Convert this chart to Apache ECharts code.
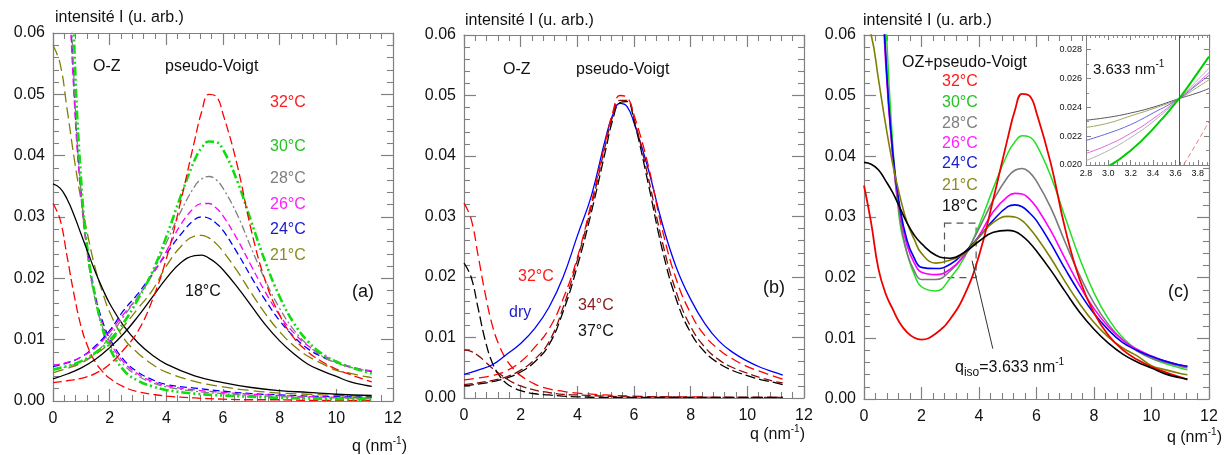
<!DOCTYPE html>
<html><head><meta charset="utf-8">
<script src="https://cdn.jsdelivr.net/npm/echarts@6/dist/echarts.min.js"></script>
<style>html,body{margin:0;padding:0;background:#fff}#c{width:1232px;height:455px}</style>
</head><body><div id="c"></div>
<script>
// ---------- q grids ----------
const qPV  = [0,0.5,1,1.5,2,2.5,3,3.5,4,4.5,5,5.25,5.5,5.75,6,6.5,7,7.5,8,8.5,9,9.5,10,10.5,11,11.25];
const qOZ  = [0,0.25,0.5,0.75,1,1.25,1.5,1.75,2,2.5,3,3.5,4,5,6,7,8,9,10,11.25];
const qSum = [0,0.25,0.5,0.75,1,1.25,1.5,1.75,2,2.5,3,3.5,4,4.5,5,5.25,5.5,5.75,6,6.5,7,7.5,8,8.5,9,9.5,10,10.5,11,11.25];
const qIso = 3.633;
const qInset = [2.8,3.0,3.2,3.4,3.633,3.8,3.9];
const qInsetRed = [3.6,3.75,3.9];

// ---------- panel (a): pseudo-Voigt ----------
const pv32 = [0.0030,0.0033,0.0037,0.0045,0.0060,0.0084,0.0114,0.0164,0.0232,0.0324,0.0425,0.0472,0.0500,0.0497,0.0468,0.0385,0.0278,0.0195,0.0140,0.0103,0.0080,0.0064,0.0052,0.0043,0.0035,0.0031];
const pv30 = [0.0051,0.0057,0.0065,0.0079,0.0099,0.0128,0.0166,0.0210,0.0268,0.0333,0.0393,0.0413,0.0423,0.0422,0.0410,0.0359,0.0292,0.0226,0.0170,0.0127,0.0097,0.0077,0.0064,0.0055,0.0048,0.0045];
const pv28 = [0.0051,0.0056,0.0064,0.0078,0.0105,0.0138,0.0170,0.0208,0.0258,0.0308,0.0350,0.0362,0.0366,0.0361,0.0347,0.0304,0.0249,0.0196,0.0151,0.0116,0.0091,0.0073,0.0062,0.0055,0.0050,0.0047];
const pv26 = [0.0058,0.0063,0.0072,0.0087,0.0112,0.0142,0.0170,0.0205,0.0244,0.0287,0.0316,0.0322,0.0322,0.0315,0.0302,0.0264,0.0220,0.0177,0.0140,0.0111,0.0090,0.0075,0.0065,0.0056,0.0051,0.0049];
const pv24 = [0.0056,0.0062,0.0072,0.0090,0.0115,0.0148,0.0175,0.0207,0.0240,0.0271,0.0296,0.0300,0.0298,0.0290,0.0278,0.0242,0.0202,0.0164,0.0131,0.0105,0.0085,0.0072,0.0063,0.0055,0.0050,0.0048];
const pv21 = [0.0046,0.0053,0.0062,0.0076,0.0095,0.0122,0.0151,0.0180,0.0220,0.0251,0.0269,0.0270,0.0266,0.0257,0.0244,0.0212,0.0176,0.0142,0.0113,0.0090,0.0073,0.0061,0.0050,0.0045,0.0040,0.0038];
const pv18 = [0.0036,0.0044,0.0054,0.0068,0.0087,0.0110,0.0138,0.0169,0.0200,0.0225,0.0237,0.0238,0.0233,0.0225,0.0214,0.0186,0.0155,0.0124,0.0098,0.0077,0.0060,0.0049,0.0040,0.0031,0.0026,0.0024];

// ---------- panel (a): Ornstein-Zernike ----------
const oz32 = [0.0322,0.0296,0.0235,0.0172,0.0120,0.0086,0.0063,0.0048,0.0037,0.0023,0.0015,0.0011,0.0008,0.0005,0.0003,0.0002,0.0002,0.0001,0.0001,0.0001];
const oz30 = [0.180,0.150,0.098,0.058,0.0355,0.0235,0.0168,0.0118,0.0086,0.0050,0.0033,0.0024,0.0018,0.0012,0.0009,0.0007,0.0005,0.0004,0.0003,0.0003];
const oz28 = [0.150,0.125,0.083,0.0515,0.0335,0.0228,0.0162,0.0120,0.0092,0.0059,0.0041,0.0030,0.0023,0.0016,0.0012,0.0009,0.0007,0.0006,0.0005,0.0004];
const oz26 = [0.135,0.113,0.076,0.049,0.0328,0.0229,0.0166,0.0125,0.0097,0.0063,0.0044,0.0032,0.0025,0.0018,0.0014,0.0011,0.0009,0.0007,0.0006,0.0005];
const oz24 = [0.142,0.118,0.0785,0.0503,0.0335,0.0234,0.0171,0.0130,0.0102,0.0067,0.0047,0.0035,0.0027,0.0021,0.0016,0.0012,0.0010,0.0008,0.0007,0.0006];
const oz21 = [0.0580,0.0550,0.0475,0.0395,0.0325,0.0265,0.0215,0.0177,0.0145,0.0102,0.0078,0.0060,0.0047,0.0032,0.0023,0.0017,0.0013,0.0011,0.0009,0.0007];
const oz18 = [0.0354,0.0347,0.0329,0.0302,0.0271,0.0240,0.0210,0.0183,0.0159,0.0122,0.0095,0.0075,0.0060,0.0041,0.0030,0.0022,0.0017,0.0014,0.0011,0.0009];

// ---------- panel (b) ----------
const pvDry = [0.0039,0.0046,0.0055,0.0072,0.0090,0.0115,0.0150,0.0200,0.0268,0.0335,0.0430,0.0468,0.0487,0.0482,0.0455,0.0379,0.0288,0.0215,0.0163,0.0123,0.0094,0.0075,0.0061,0.0050,0.0042,0.0038];
const pv34 = [0.0022,0.0025,0.0029,0.0035,0.0046,0.0064,0.0093,0.0150,0.0228,0.0318,0.0420,0.0466,0.0492,0.0492,0.0462,0.0365,0.0258,0.0174,0.0118,0.0084,0.0063,0.0050,0.0041,0.0033,0.0027,0.0025];
const pv37 = [0.0020,0.0023,0.0027,0.0033,0.0043,0.0060,0.0088,0.0143,0.0218,0.0308,0.0410,0.0460,0.0488,0.0490,0.0458,0.0355,0.0245,0.0162,0.0108,0.0076,0.0057,0.0045,0.0037,0.0030,0.0025,0.0022];
const oz34 = [0.0079,0.0077,0.0070,0.0060,0.0049,0.0040,0.0032,0.0025,0.0020,0.0013,0.0009,0.0006,0.0005,0.0003,0.0002,0.0002,0.0001,0.0001,0.0001,0.0001];
const oz37 = [0.0223,0.0200,0.0148,0.0095,0.0058,0.0037,0.0024,0.0017,0.0012,0.0007,0.0005,0.0003,0.0002,0.0001,0.0001,0.0001,0.0001,0.0001,0.0001,0.0001];

// ---------- panel (c): OZ + pseudo-Voigt ----------
const sum32 = [0.0352,0.0290,0.0215,0.0174,0.0148,0.0125,0.0110,0.0101,0.0098,0.0108,0.0132,0.0172,0.0236,0.0330,0.0430,0.0476,0.0503,0.0500,0.0472,0.0388,0.0280,0.0197,0.0142,0.0105,0.0081,0.0065,0.0053,0.0044,0.0036,0.0032];
const sum30 = [0.1851,0.1554,0.1037,0.0641,0.0420,0.0290,0.0240,0.0205,0.0185,0.0178,0.0199,0.0234,0.0286,0.0348,0.0405,0.0424,0.0434,0.0432,0.0419,0.0367,0.0299,0.0232,0.0175,0.0132,0.0101,0.0081,0.0067,0.0058,0.0051,0.0048];
const sum28 = [0.1551,0.1303,0.0886,0.0575,0.0399,0.0299,0.0240,0.0211,0.0197,0.0197,0.0211,0.0238,0.0281,0.0328,0.0366,0.0377,0.0380,0.0374,0.0359,0.0315,0.0258,0.0204,0.0158,0.0123,0.0097,0.0079,0.0067,0.0060,0.0054,0.0051];
const sum26 = [0.1408,0.1190,0.0823,0.0557,0.0400,0.0308,0.0253,0.0224,0.0209,0.0205,0.0214,0.0237,0.0269,0.0309,0.0334,0.0339,0.0338,0.0330,0.0316,0.0277,0.0231,0.0187,0.0149,0.0119,0.0097,0.0082,0.0071,0.0062,0.0056,0.0054];
const sum24 = [0.1476,0.1239,0.0847,0.0570,0.0407,0.0315,0.0261,0.0232,0.0217,0.0215,0.0222,0.0242,0.0267,0.0295,0.0317,0.0320,0.0317,0.0307,0.0294,0.0256,0.0214,0.0175,0.0141,0.0114,0.0093,0.0080,0.0070,0.0062,0.0056,0.0054];
const sum21 = [0.0626,0.0600,0.0528,0.0453,0.0387,0.0334,0.0291,0.0263,0.0240,0.0224,0.0229,0.0240,0.0267,0.0291,0.0301,0.0300,0.0294,0.0282,0.0267,0.0232,0.0193,0.0157,0.0126,0.0102,0.0084,0.0071,0.0055,0.0048,0.0042,0.0040];
const sum18 = [0.0390,0.0387,0.0378,0.0360,0.0340,0.0315,0.0290,0.0270,0.0256,0.0237,0.0232,0.0242,0.0260,0.0275,0.0278,0.0276,0.0269,0.0258,0.0244,0.0212,0.0177,0.0143,0.0115,0.0092,0.0074,0.0061,0.0051,0.0041,0.0035,0.0033];

// ---------- inset ----------
const in18 = [0.0231,0.0233,0.0236,0.0240,0.0246,0.0250,0.0253];
const in21 = [0.0226,0.0229,0.0234,0.0239,0.0246,0.0254,0.0259];
const in24 = [0.0217,0.0222,0.0228,0.0236,0.0246,0.0256,0.0262];
const in26 = [0.0208,0.0214,0.0222,0.0232,0.0246,0.0257,0.0264];
const in28 = [0.0203,0.0210,0.0219,0.0230,0.0246,0.0259,0.0267];
const in30 = [0.0193,0.0199,0.0210,0.0225,0.0246,0.0264,0.0275];
const in32 = [0.0191,0.0210,0.0230];

// ---------- axis ticks ----------
const mainX = {min:0, max:12, interval:2};
const mainY = {min:0, max:0.06, interval:0.01};
const insetX = {min:2.8, max:3.9, interval:0.2};
const insetY = {min:0.020, max:0.029, interval:0.002};
const boxQ = [2.8, 3.9], boxI = [0.020, 0.029];
const arrowFrom = [4.48, 0.0083], arrowTo = [3.76, 0.0228];

const FONT = '"Liberation Sans", Arial, Helvetica, sans-serif';
const AX = '#808080';

function isMult(v, step){ const r = v/step; return Math.abs(r - Math.round(r)) < 1e-6; }

function axis(gi, pos, rng, o){
  const showLab = (pos === 'bottom' || pos === 'left');
  return {
    type:'value', gridIndex:gi, position:pos, min:rng.min, max:rng.max, interval:rng.interval,
    z: o.z || 0,
    axisLine:{show:true, onZero:false, lineStyle:{color:AX, width:o.lw}},
    axisTick:{show:true, inside:true, length:o.tick, lineStyle:{color:AX, width:o.lw}},
    minorTick:{show:true, splitNumber:o.minor, length:o.minorLen, lineStyle:{color:AX, width:o.lw*0.9}},
    splitLine:{show:false}, minorSplitLine:{show:false},
    axisLabel:{show:showLab, margin:o.margin, color:'#111', fontSize:o.fs, fontFamily:FONT,
      formatter: v => isMult(v - rng.min, rng.interval) ? v.toFixed(o.dec) : ''},
  };
}
const mainXo = {lw:1.2, tick:12, minor:5, minorLen:6, margin:10, fs:16, dec:0};
const mainYo = {lw:1.2, tick:12, minor:5, minorLen:6, margin:8, fs:16, dec:2};
const inXo = {lw:1, tick:5, minor:5, minorLen:3, margin:4, fs:9, dec:1, z:60};
const inYo = {lw:1, tick:5, minor:2, minorLen:3, margin:4, fs:9, dec:3, z:60};

const xAxis = [], yAxis = [];
for (let g = 0; g < 3; g++){
  xAxis.push(axis(g, 'bottom', mainX, mainXo));
  xAxis.push(axis(g, 'top', mainX, mainXo));
  yAxis.push(axis(g, 'left', mainY, mainYo));
  yAxis.push(axis(g, 'right', mainY, mainYo));
}
xAxis.push(axis(3, 'bottom', insetX, inXo));
xAxis.push(axis(3, 'top', insetX, inXo));
yAxis.push(axis(3, 'left', insetY, inYo));
yAxis.push(axis(3, 'right', insetY, inYo));

const grid = [
  {left:53, top:33, width:340, height:368, outerBoundsMode:'none'},
  {left:464, top:35, width:340, height:363, outerBoundsMode:'none'},
  {left:864, top:35, width:345, height:364, outerBoundsMode:'none'},
  {left:1086, top:35, width:123, height:130, outerBoundsMode:'none'}
];

function ser(q, v, ax, color, width, type, z){
  return {type:'line', xAxisIndex:ax, yAxisIndex:ax, data:q.map((x,i)=>[x, v[i]]),
    showSymbol:false, symbol:'none', smooth:0.45, clip:true, silent:true,
    animation:false, z: z || 2,
    lineStyle:{color, width, type: type || 'solid'}};
}
const COL = {r:'#ff0000', g:'#10dd10', gr:'#808080', m:'#ff00ff', b:'#0000ff', o:'#808000', k:'#000000', dr:'#8b0a0a'};
const D = {r:[9,4], g:[9,3,2,3,2,3], gr:[8,3,2,3], m:[7,4], b:[7,4], o:[11,5]};

const series = [
  // (a) OZ
  ser(qOZ, oz32, 0, COL.r, 1.3, D.r), ser(qOZ, oz21, 0, COL.o, 1.3, D.o),
  ser(qOZ, oz24, 0, COL.b, 1.3, D.b), ser(qOZ, oz26, 0, COL.m, 1.3, D.m),
  ser(qOZ, oz28, 0, COL.gr, 1.3, D.gr), ser(qOZ, oz30, 0, COL.g, 2.6, D.g),
  ser(qOZ, oz18, 0, COL.k, 1.3),
  // (a) PV
  ser(qPV, pv18, 0, COL.k, 1.3), ser(qPV, pv21, 0, COL.o, 1.3, D.o),
  ser(qPV, pv24, 0, COL.b, 1.3, D.b), ser(qPV, pv26, 0, COL.m, 1.3, D.m),
  ser(qPV, pv28, 0, COL.gr, 1.3, D.gr), ser(qPV, pv30, 0, COL.g, 2.6, D.g),
  ser(qPV, pv32, 0, COL.r, 1.3, D.r),
  // (b)
  ser(qOZ, oz32, 2, COL.r, 1.3, [10,5]), ser(qOZ, oz34, 2, COL.dr, 1.3, [9,4]),
  ser(qOZ, oz37, 2, COL.k, 1.3, [10,4]),
  ser(qPV, pvDry, 2, COL.b, 1.3), ser(qPV, pv37, 2, COL.k, 1.3, [10,4]),
  ser(qPV, pv34, 2, COL.dr, 1.3, [9,4]), ser(qPV, pv32, 2, COL.r, 1.3, [10,5]),
  // (c)
  ser(qSum, sum30, 4, '#22e022', 1.5), ser(qSum, sum28, 4, '#7a7a7a', 1.6),
  ser(qSum, sum26, 4, COL.m, 1.6), ser(qSum, sum24, 4, '#0000ee', 1.6),
  ser(qSum, sum21, 4, COL.o, 1.6), ser(qSum, sum32, 4, '#ee0000', 1.8),
  Object.assign(ser(qSum, sum18, 4, COL.k, 1.6), {
    markArea:{silent:true, label:{show:false},
      itemStyle:{color:'rgba(0,0,0,0)', borderColor:'#555', borderWidth:1.2, borderType:[7,5]},
      data:[[{coord:[boxQ[0], boxI[1]]},{coord:[boxQ[1], boxI[0]]}]]},
    markLine:{silent:true, animation:false, symbol:['none','arrow'], symbolSize:[1,9],
      label:{show:false}, lineStyle:{color:'#333', width:1, type:'solid'},
      data:[[{coord:arrowFrom},{coord:arrowTo}]]}
  }),
  // inset
  ser(qInset, in18, 6, '#444444', 0.9, 'solid', 70), ser(qInset, in21, 6, '#9a9a50', 0.9, 'solid', 70),
  ser(qInset, in24, 6, '#5555dd', 0.9, 'solid', 70), ser(qInset, in26, 6, '#dd55dd', 0.9, 'solid', 70),
  ser(qInset, in28, 6, '#a8a8a8', 0.9, 'solid', 70), ser(qInsetRed, in32, 6, '#e07070', 0.9, [5,3], 70),
  Object.assign(ser(qInset, in30, 6, '#00cc00', 2, 'solid', 71), {
    markLine:{silent:true, animation:false, z:75, symbol:'none', label:{show:false},
      lineStyle:{color:'#555', width:1, type:'solid'}, data:[{xAxis:qIso}]}
  })
];

function txt(x, y, text, color, size, align){
  return {type:'text', x, y, z:100, silent:true,
    style:{text, fill:color || '#111', fontSize:size || 16, fontFamily:FONT, align:align || 'left', verticalAlign:'middle'}};
}
const RICH = {
  a:{fontSize:16, fontFamily:FONT, fill:'#111', lineHeight:22},
  s:{fontSize:10, fontFamily:FONT, fill:'#111', lineHeight:10, verticalAlign:'top'},
  b:{fontSize:12, fontFamily:FONT, fill:'#111', lineHeight:12, verticalAlign:'bottom'}
};
function rtxt(x, y, text, align, size){
  const rich = JSON.parse(JSON.stringify(RICH));
  if (size) rich.a.fontSize = size;
  return {type:'text', x, y, z:100, silent:true,
    style:{text, rich, fill:'#111', fontSize:16, fontFamily:FONT, align:align || 'left', verticalAlign:'middle'}};
}
const TC = {r:'#ff1a1a', g:'#22c322', gr:'#7f7f7f', m:'#ff22ff', b:'#1a1acc', o:'#8b8b22', k:'#111', dr:'#8b1a1a'};
const TITLE = 'intensité I (u. arb.)';
const QLAB = '{a|q (nm}{s|-1}{a|)}';

const graphic = [
  {type:'rect', z:50, silent:true, shape:{x:1086, y:35, width:123, height:130}, style:{fill:'#fff'}},
  // (a)
  txt(55, 18, TITLE), txt(93, 67, 'O-Z'), txt(165, 67, 'pseudo-Voigt'),
  txt(270, 103, '32°C', TC.r), txt(270, 147, '30°C', TC.g), txt(270, 179, '28°C', TC.gr),
  txt(270, 205, '26°C', TC.m), txt(270, 230, '24°C', TC.b), txt(270, 256, '21°C', TC.o),
  txt(185, 292, '18°C', TC.k), txt(352, 292, '(a)', '#111', 18), rtxt(407, 447, QLAB, 'right'),
  // (b)
  txt(465, 21, TITLE), txt(503, 70, 'O-Z'), txt(576, 70, 'pseudo-Voigt'),
  txt(518, 277, '32°C', TC.r), txt(509, 313, 'dry', TC.b), txt(578, 306, '34°C', TC.dr),
  txt(578, 332, '37°C', TC.k), txt(763, 288, '(b)', '#111', 18), rtxt(805, 435, QLAB, 'right'),
  // (c)
  txt(863, 21, TITLE), txt(902, 63, 'OZ+pseudo-Voigt'),
  txt(942, 82, '32°C', TC.r), txt(942, 103, '30°C', TC.g), txt(942, 124, '28°C', TC.gr),
  txt(942, 144, '26°C', TC.m), txt(942, 164, '24°C', TC.b), txt(942, 186, '21°C', TC.o),
  txt(942, 207, '18°C', TC.k), txt(1168, 292, '(c)', '#111', 18),
  rtxt(955, 368, '{a|q}{b|iso}{a|=3.633 nm}{s|-1}', 'left'),
  rtxt(1222, 438, QLAB, 'right'),
  rtxt(1093, 70, '{a|3.633 nm}{s|-1}', 'left', 15)
];

const chart = echarts.init(document.getElementById('c'), null, {renderer:'canvas'});
chart.setOption({
  animation:false, backgroundColor:'#fff',
  grid, xAxis, yAxis, series, graphic:{elements:graphic}
});
</script></body></html>
